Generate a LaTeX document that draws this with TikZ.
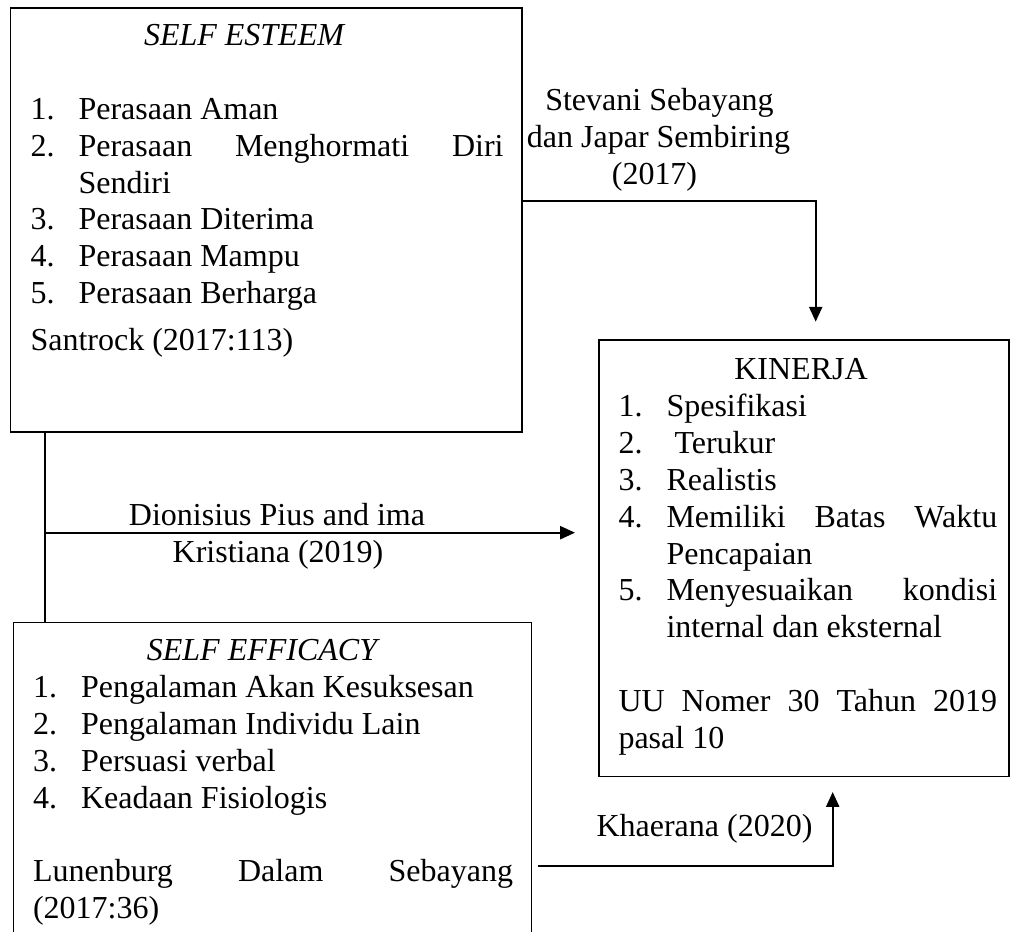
\documentclass[tikz,border=0pt]{standalone}
\usepackage{fontspec}
\setmainfont{Liberation Serif}
\usetikzlibrary{arrows.meta,fit}
\newcommand\itm[1]{\makebox[18pt][l]{#1}}
\begin{document}
\begin{tikzpicture}[x=0.375pt,y=-0.375pt,
  box/.style={draw,line width=0.5pt,inner sep=0pt},
  txt/.style={inner sep=0pt,font=\fontsize{12pt}{13.8pt}\selectfont},
  tl/.style={txt,anchor=base west},
  tc/.style={txt,anchor=base},
  conn/.style={line width=0.8pt},
  arr/.style={conn,-{Triangle[length=5.6pt,width=4.9pt]}},
  thinline/.style={line width=0.5pt}]
\useasboundingbox (0,0) rectangle (1013,932);
\clip (0,0) rectangle (1013,932);
% boxes
\coordinate (e1) at (10.7,8);   \coordinate (e2) at (522,432);
\coordinate (k1) at (599,340);  \coordinate (k2) at (1009,776.7);
\coordinate (f1) at (13.3,622.7); \coordinate (f2) at (531.7,980);
\node[box,fit=(e1)(e2)] (esteem) {};
\node[box,fit=(k1)(k2)] (kinerja) {};
\node[box,fit=(f1)(f2)] (efficacy) {};
% SELF ESTEEM text
\node[tc] (es0) at (244,46) {\itshape SELF ESTEEM};
\node[tl] (es1) at (30,119.6) {\itm{1.}Perasaan Aman};
\node[tl] (es2) at (30,156.4) {\itm{2.}\makebox[159.4pt][s]{Perasaan Menghormati Diri}};
\node[tl] (es2b) at (78,193.2) {Sendiri};
\node[tl] (es3) at (30,230) {\itm{3.}Perasaan Diterima};
\node[tl] (es4) at (30,266.8) {\itm{4.}Perasaan Mampu};
\node[tl] (es5) at (30,303.6) {\itm{5.}Perasaan Berharga};
\node[tl] (es6) at (30,351) {Santrock (2017:113)};
% KINERJA text
\node[tc] (ki0) at (801,380) {KINERJA};
\node[tl] (ki1) at (618,417) {\itm{1.}Spesifikasi};
\node[tl] (ki2) at (618,453.8) {\itm{2.}\ Terukur};
\node[tl] (ki3) at (618,490.6) {\itm{3.}Realistis};
\node[tl] (ki4) at (618,527.4) {\itm{4.}\makebox[124pt][s]{Memiliki Batas Waktu}};
\node[tl] (ki4b) at (666,564.2) {Pencapaian};
\node[tl] (ki5) at (618,601) {\itm{5.}\makebox[124pt][s]{Menyesuaikan kondisi}};
\node[tl] (ki5b) at (666,637.8) {internal dan eksternal};
\node[tl] (ki6) at (618,711.4) {\makebox[142pt][s]{UU Nomer 30 Tahun 2019}};
\node[tl] (ki6b) at (618,748.2) {pasal 10};
% SELF EFFICACY text
\node[tc] (ef0) at (262,661) {\itshape SELF EFFICACY};
\node[tl] (ef1) at (32.5,697.8) {\itm{1.}Pengalaman Akan Kesuksesan};
\node[tl] (ef2) at (32.5,734.6) {\itm{2.}Pengalaman Individu Lain};
\node[tl] (ef3) at (32.5,771.4) {\itm{3.}Persuasi verbal};
\node[tl] (ef4) at (32.5,808.2) {\itm{4.}Keadaan Fisiologis};
\node[tl] (ef5) at (32.5,881.8) {\makebox[180pt][s]{Lunenburg Dalam Sebayang}};
\node[tl] (ef6) at (32.5,918.6) {(2017:36)};
% connector labels
\node[tc] (sv1) at (659.5,111) {Stevani Sebayang};
\node[tc] (sv2) at (658.5,148) {dan Japar Sembiring};
\node[tc] (sv3) at (654.5,185) {(2017)};
\node[tc] (dp1) at (277,526) {Dionisius Pius and ima};
\node[tc] (dp2) at (278,562.6) {Kristiana (2019)};
\node[tc] (kh) at (704.5,836.7) {Khaerana (2020)};
% connectors
\coordinate (vx) at (45,480);
\draw[thinline] (esteem.south -| vx) -- (efficacy.north -| vx);
\coordinate (dstart) at (45,532.7);
\coordinate (dend) at (575,532.7);
\draw[arr] (dstart) -- (dend);
\coordinate (sv) at (815.7,200.7);
\coordinate (svend) at (815.7,321.7);
\draw[arr] (esteem.east |- sv) -- (sv) -- (svend);
\coordinate (kh0) at (538,866);
\coordinate (kh1) at (832.7,866);
\coordinate (khend) at (832.7,792);
\draw[arr] (kh0) -- (kh1) -- (khend);
\end{tikzpicture}
\end{document}
